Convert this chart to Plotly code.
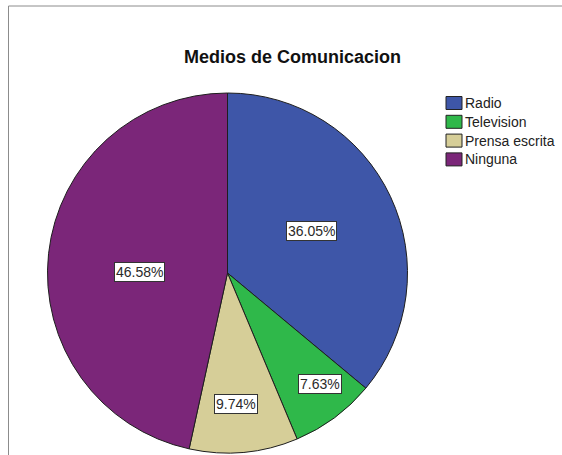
import math
import plotly.graph_objects as go

# Survey shares by communication medium (percent)
categories = ["Radio", "Television", "Prensa escrita", "Ninguna"]
shares = [36.05, 7.63, 9.74, 46.58]
colors = ["#3E56A8", "#2FB84A", "#D6CE98", "#7B2679"]

# Label placement: fraction of radius and small angular nudge (degrees)
label_radius = [0.52, 0.80, 0.73, 0.49]
label_nudge = [-1.6, -3.3, 1.5, -5.6]

W, H = 562, 455
FONT = "Arial, Liberation Sans, sans-serif"

# Pie geometry in pixels
cx, cy, R = 227.5, 273.0, 180.0
dom_x = [(cx - R) / W, (cx + R) / W]
dom_y = [1 - (cy + R) / H, 1 - (cy - R) / H]

fig = go.Figure(
    go.Pie(
        labels=categories,
        values=shares,
        sort=False,
        direction="clockwise",
        rotation=0,
        marker=dict(colors=colors, line=dict(color="#1e1e1e", width=1)),
        textinfo="none",
        hoverinfo="label+percent",
        domain=dict(x=dom_x, y=dom_y),
        showlegend=False,
    )
)

# Boxed percentage labels placed at the mid-angle of each slice
total = sum(shares)
cum = 0.0
annotations = []
for v, rf, nd in zip(shares, label_radius, label_nudge):
    mid = (cum + v / 2) / total * 360 + nd
    cum += v
    a = math.radians(mid)
    px = cx + R * rf * math.sin(a)
    py = cy - R * rf * math.cos(a)
    annotations.append(
        dict(
            x=px / W, y=1 - py / H, xref="paper", yref="paper",
            text=f"{v:.2f}%", showarrow=False,
            font=dict(family=FONT, size=14, color="#2a2a2a"),
            bgcolor="white", bordercolor="#333333", borderwidth=1, borderpad=1,
            xanchor="center", yanchor="middle",
        )
    )

# Legend drawn as swatches + text
shapes = []
leg_x0, leg_y0, leg_step = 446, 103, 18.8
for i, (name, col) in enumerate(zip(categories, colors)):
    yc = leg_y0 + i * leg_step
    shapes.append(
        dict(
            type="rect", xref="paper", yref="paper",
            x0=leg_x0 / W, x1=(leg_x0 + 16) / W,
            y0=1 - (yc + 6.5) / H, y1=1 - (yc - 6.5) / H,
            fillcolor=col, line=dict(color="#222222", width=1),
        )
    )
    annotations.append(
        dict(
            x=(leg_x0 + 17) / W, y=1 - yc / H, xref="paper", yref="paper",
            text=name, showarrow=False, xanchor="left", yanchor="middle",
            font=dict(family=FONT, size=14, color="#222222"),
        )
    )

# Frame lines (top and left)
shapes.append(
    dict(type="line", xref="paper", yref="paper",
         x0=8.5 / W, x1=1, y0=1 - 6 / H, y1=1 - 6 / H,
         line=dict(color="#8c8c8c", width=1))
)
shapes.append(
    dict(type="line", xref="paper", yref="paper",
         x0=8.5 / W, x1=8.5 / W, y0=0, y1=1 - 6 / H,
         line=dict(color="#8c8c8c", width=1))
)

fig.update_layout(
    width=W, height=H,
    margin=dict(l=0, r=0, t=0, b=0),
    paper_bgcolor="white", plot_bgcolor="white",
    title=dict(
        text="<b>Medios de Comunicacion</b>",
        x=292.5 / W, y=1 - 57 / H, xanchor="center", yanchor="middle",
        font=dict(family=FONT, size=18, color="#111111"),
    ),
    annotations=annotations,
    shapes=shapes,
)

fig.write_html("out.html")
